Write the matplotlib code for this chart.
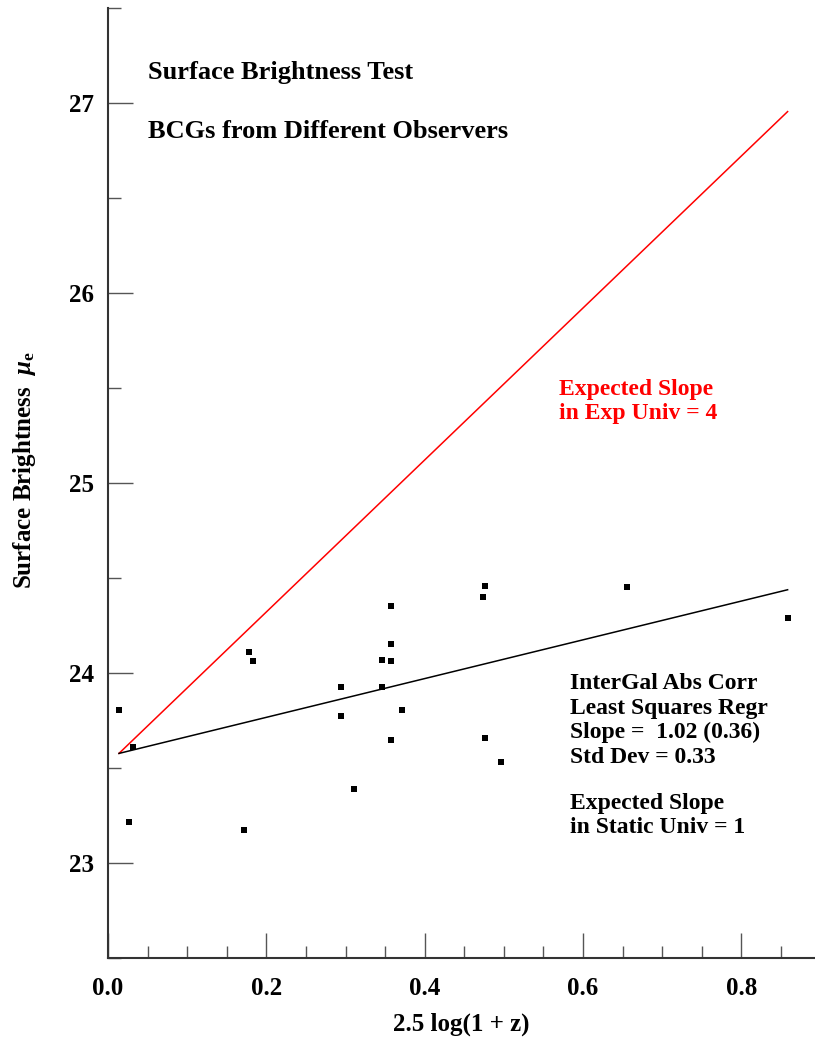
import matplotlib

matplotlib.use("Agg")
import matplotlib.pyplot as plt
import numpy as np
from matplotlib.ticker import MultipleLocator

plt.rcParams["font.family"] = ["Liberation Serif", "DejaVu Serif"]
plt.rcParams["font.weight"] = "bold"
plt.rcParams["mathtext.fontset"] = "custom"
plt.rcParams["mathtext.rm"] = "Liberation Serif:bold"
plt.rcParams["mathtext.it"] = "Liberation Serif:bold:italic"
plt.rcParams["mathtext.bf"] = "Liberation Serif:bold"

# BCG sample: 2.5 log(1+z) vs effective surface brightness
log_z = [0.0139, 0.0319, 0.0261, 0.1779, 0.1833, 0.1716, 0.294, 0.294,
         0.3104, 0.3461, 0.3461, 0.358, 0.358, 0.358, 0.358, 0.3714,
         0.476, 0.474, 0.476, 0.497, 0.6558, 0.8584]
mu_e = [23.805, 23.611, 23.216, 24.112, 24.063, 23.172, 23.925, 23.774,
        23.388, 24.068, 23.928, 24.353, 24.154, 24.063, 23.646, 23.805,
        24.458, 24.400, 23.659, 23.530, 24.451, 24.289]

# regression line and expanding-universe expectation, from a common origin
x_start, x_end = 0.0139, 0.8584
y_start = 23.577
fit_slope = 1.02
exp_slope = 4.0

fig = plt.figure(figsize=(8.15, 10.46), dpi=100)
ax = fig.add_axes([0.1325, 0.0841, 0.8675, 0.9082])

xx = np.array([x_start, x_end])
ax.plot(xx, y_start + exp_slope * (xx - x_start), color="#ff0000", lw=1.1)
ax.plot(xx, y_start + fit_slope * (xx - x_start), color="black", lw=1.1)
ax.plot(log_z, mu_e, "s", color="black", ms=4, mec="black", mew=0)

ax.set_xlim(0, 0.893)
ax.set_ylim(22.5, 27.5)
ax.xaxis.set_major_locator(MultipleLocator(0.2))
ax.xaxis.set_minor_locator(MultipleLocator(0.05))
ax.yaxis.set_major_locator(MultipleLocator(1))
ax.yaxis.set_minor_locator(MultipleLocator(0.5))
ax.set_xticks([0.0, 0.2, 0.4, 0.6, 0.8])
ax.set_xticklabels(["0.0", "0.2", "0.4", "0.6", "0.8"])

for side in ("top", "right"):
    ax.spines[side].set_visible(False)
for side in ("left", "bottom"):
    ax.spines[side].set_linewidth(1.5)
    ax.spines[side].set_color("#333333")

ax.tick_params(which="major", direction="in", length=18, width=1.0,
               color="#555555", labelsize=18, pad=10)
ax.tick_params(which="minor", direction="in", length=9, width=1.0,
               color="#555555")
ax.tick_params(axis="x", which="major", pad=14)

ax.set_xlabel("2.5 log(1 + z)", fontsize=18, fontweight="bold")
ax.xaxis.set_label_coords(0.5, -0.057)
ax.set_ylabel(r"Surface Brightness  $\mu_\mathrm{e}$", fontsize=18,
              fontweight="bold")
ax.yaxis.set_label_coords(-0.099, 0.514)

ax.text(0.0505, 27.162, "Surface Brightness Test", fontsize=19, va="center")
ax.text(0.0505, 26.852, "BCGs from Different Observers", fontsize=19, va="center")

ax.text(0.57, 25.429, "Expected Slope\nin Exp Univ = 4", fontsize=17,
        color="#ff0000", va="center", linespacing=1.22)

ax.text(0.584, 23.75, "InterGal Abs Corr\nLeast Squares Regr\n"
        "Slope =  1.02 (0.36)\nStd Dev = 0.33", fontsize=17, va="center",
        linespacing=1.22)
ax.text(0.584, 23.25, "Expected Slope\nin Static Univ = 1", fontsize=17,
        va="center", linespacing=1.22)

fig.savefig("out.png", dpi=100)
